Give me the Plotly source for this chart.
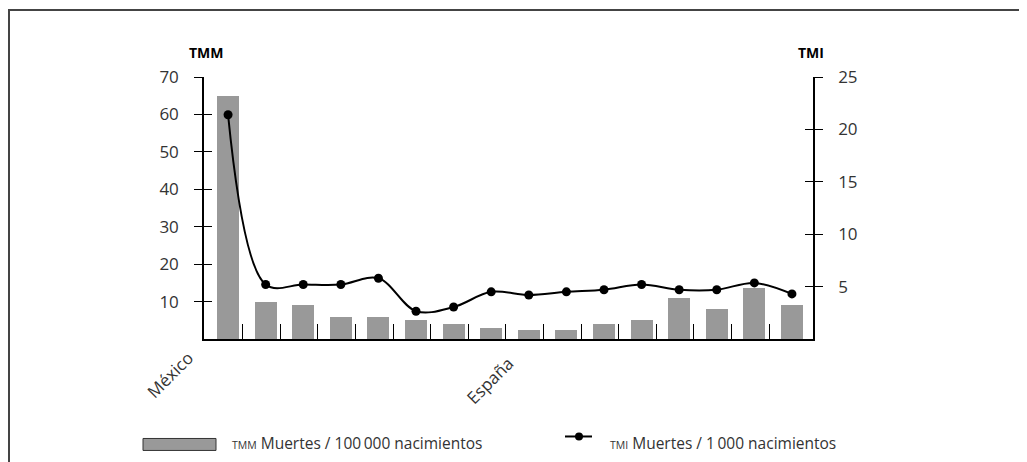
import plotly.graph_objects as go

# ---------------- data ----------------
labels = ["México", "", "", "", "", "", "", "", "España", "", "", "", "", "", "", ""]
tmm = [65, 10, 9, 6, 6, 5, 4, 3, 2.3, 2.3, 4, 5, 11, 8, 13.5, 9]          # Muertes / 100 000 nacimientos
tmi = [21.4, 5.2, 5.2, 5.2, 5.8, 2.65, 3.05, 4.5, 4.2, 4.5, 4.7, 5.2, 4.7, 4.7, 5.35, 4.3]  # Muertes / 1 000 nacimientos
left_ticks = [10, 20, 30, 40, 50, 60, 70]
right_ticks = [5, 10, 15, 20, 25]

# label placement (pixel shifts relative to the category position)
label_shift = {"México": (-27, -5), "España": (-8, -10)}

OFF = 8                       # page body margin
W, H = 1027 - OFF, 462 - OFF
L, R, T, B = 204, 813, 76.7, 339.3   # plot area in screen px

def px(x):
    return (x - L) / (R - L)

def py(y):
    return (B - y) / (B - T)

xs = list(range(len(tmm)))

FONT = "Open Sans"
TXT = "#333333"

fig = go.Figure()
fig.add_trace(go.Bar(x=xs, y=tmm, width=0.585, marker=dict(color="#999999", line=dict(width=0)),
                     yaxis="y", showlegend=False))
fig.add_trace(go.Scatter(x=xs, y=tmi, mode="lines+markers", yaxis="y2",
                         line=dict(color="black", width=2, shape="spline", smoothing=1),
                         marker=dict(color="black", size=9), showlegend=False, cliponaxis=False))

axis_common = dict(showgrid=False, zeroline=False, showline=True, linecolor="black", linewidth=1.5,
                   tickcolor="black", tickwidth=1.2)
tickfont = dict(size=17, family=FONT, color=TXT)

fig.update_layout(
    width=W, height=H,
    margin=dict(l=L - OFF, r=W - (R - OFF), t=T - OFF, b=H - (B - OFF), pad=0, autoexpand=False),
    paper_bgcolor="white", plot_bgcolor="white",
    font=dict(family=FONT, color=TXT),
    bargap=0,
    xaxis=dict(range=[-0.64, 15.56], showgrid=False, zeroline=False, showline=True,
               linecolor="black", linewidth=1.5, showticklabels=False, ticks="",
               minor=dict(tickmode="array", tickvals=[i + 0.39 for i in xs[:-1]], ticks="inside",
                          ticklen=15, tickwidth=1.2, tickcolor="black")),
    yaxis=dict(range=[0, 70], tickmode="array", tickvals=left_ticks, ticks="outside", ticklen=8,
               ticklabelstandoff=12, tickfont=tickfont, **axis_common),
    yaxis2=dict(range=[0, 25], overlaying="y", side="right", anchor="x", tickmode="array",
                tickvals=right_ticks, ticks="outside", ticklen=8, ticklabelstandoff=12,
                tickfont=tickfont, **axis_common),
    yaxis3=dict(range=[0, 70], overlaying="y", side="left", anchor="x", tickmode="array",
                tickvals=left_ticks, ticks="inside", ticklen=8, showticklabels=False,
                showline=False, showgrid=False, zeroline=False, tickcolor="black", tickwidth=1.2),
    yaxis4=dict(range=[0, 25], overlaying="y", side="right", anchor="x", tickmode="array",
                tickvals=right_ticks, ticks="inside", ticklen=8, showticklabels=False,
                showline=False, showgrid=False, zeroline=False, tickcolor="black", tickwidth=1.2),
)
# dummy traces so overlay axes render
fig.add_trace(go.Scatter(x=[None], y=[None], yaxis="y3", showlegend=False, hoverinfo="skip"))
fig.add_trace(go.Scatter(x=[None], y=[None], yaxis="y4", showlegend=False, hoverinfo="skip"))

# category labels
for i, s in enumerate(labels):
    if s:
        dx, dy = label_shift[s]
        fig.add_annotation(text=s, x=i, y=0, xref="x", yref="y", xanchor="right", yanchor="top",
                           textangle=-45, xshift=dx, yshift=dy, showarrow=False,
                           font=dict(size=17, color=TXT, family=FONT))

# axis titles
fig.add_annotation(text="<b>TMM</b>", x=px(206), y=py(52), xref="paper", yref="paper",
                   xanchor="center", yanchor="middle",
                   showarrow=False, font=dict(size=14, color="black", family=FONT))
fig.add_annotation(text="<b>TMI</b>", x=px(811), y=py(52), xref="paper", yref="paper",
                   xanchor="center", yanchor="middle",
                   showarrow=False, font=dict(size=14, color="black", family=FONT))

# legend
fig.add_shape(type="rect", xref="paper", yref="paper", x0=px(143), x1=px(216), y0=py(451), y1=py(439),
              fillcolor="#999999", line=dict(color="#333333", width=1))
fig.add_annotation(text="<span style='font-size:10.5px'>TMM</span> Muertes / 100\u2009000 nacimientos",
                   x=px(230), y=py(444), xref="paper", yref="paper", xanchor="left", yanchor="middle",
                   showarrow=False, font=dict(size=15.5, color=TXT, family=FONT))
fig.add_shape(type="line", xref="paper", yref="paper", x0=px(565), x1=px(592), y0=py(437), y1=py(437),
              line=dict(color="black", width=2))
fig.add_shape(type="circle", xref="paper", yref="paper", x0=px(575), x1=px(583), y0=py(441), y1=py(433),
              fillcolor="black", line=dict(color="black", width=0))
fig.add_annotation(text="<span style='font-size:10.5px'>TMI</span> Muertes / 1\u2009000 nacimientos",
                   x=px(608), y=py(444), xref="paper", yref="paper", xanchor="left", yanchor="middle",
                   showarrow=False, font=dict(size=15.5, color=TXT, family=FONT))

# outer frame
fig.add_shape(type="rect", xref="paper", yref="paper", x0=px(9), x1=px(1022), y0=py(480), y1=py(9.5),
              line=dict(color="#444444", width=2), fillcolor="rgba(0,0,0,0)", layer="below")

fig.write_html("out.html")
